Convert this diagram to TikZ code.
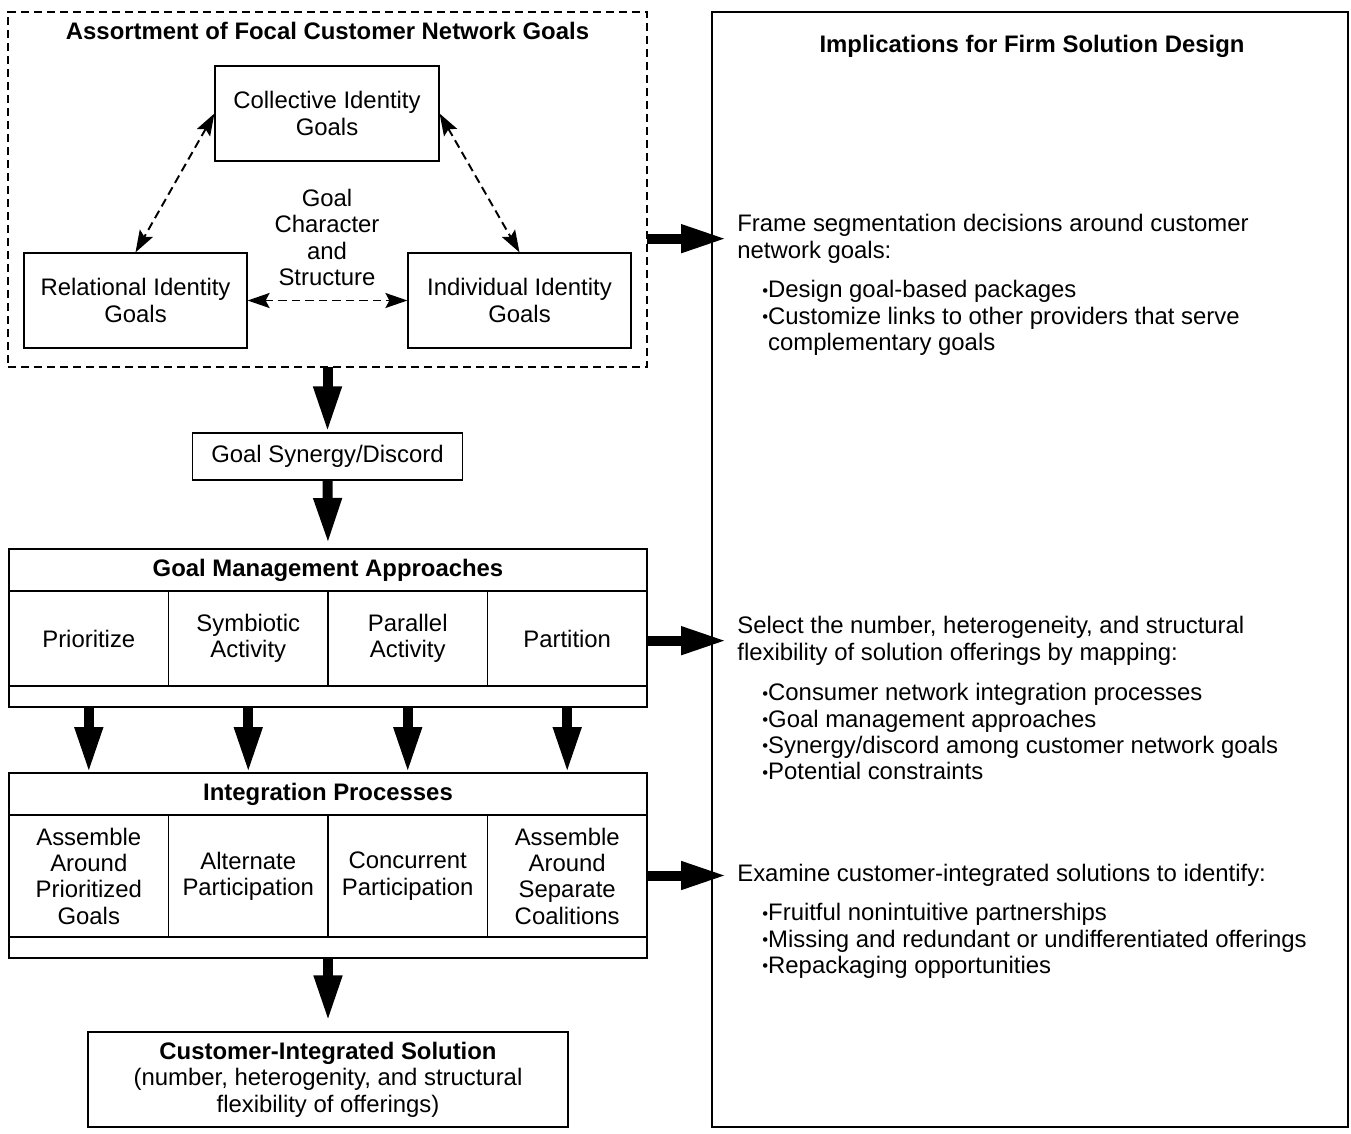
\documentclass[tikz,border=0pt]{standalone}
\usepackage{fontspec}
\setmainfont{Liberation Sans}
\usetikzlibrary{arrows.meta,positioning}
\newcommand{\basefont}{\fontsize{13.6}{15}\selectfont}
\newcommand{\bul}{\raisebox{0.8pt}{\fontsize{9.5}{9.5}\selectfont\textbullet}}
\tikzset{
    box/.style={rectangle, draw, line width=0.7pt, align=center, inner sep=2pt},
    goalbox/.style={box, minimum width=4.46cm, minimum height=1.9cm},
    hdr/.style={box, minimum width=12.76cm, minimum height=0.84cm,
        font=\basefont\bfseries, outer sep=0pt},
    cell/.style={box, minimum width=3.19cm, outer sep=0pt},
    strip/.style={box, minimum width=12.76cm, minimum height=0.42cm, outer sep=0pt},
    bigarr/.style={line width=0.2cm, -{Triangle[length=0.92cm,width=0.52cm]}},
    darr/.style={line width=1.1pt, dash pattern=on 0.17cm off 0.1cm,
        {Stealth[length=0.44cm,width=0.3cm,inset=0.08cm]}-{Stealth[length=0.44cm,width=0.3cm,inset=0.08cm]}},
    note/.style={align=left, inner sep=0pt, anchor=north west},
}
\begin{document}
\begin{tikzpicture}[x=0.02cm, y=-0.02cm, font=\basefont]
\useasboundingbox (0,0) rectangle (1351,1133);

% ---- goal assortment (dashed frame) ----
\node[draw, line width=1.1pt, dash pattern=on 0.16cm off 0.1cm, inner sep=0pt,
      outer sep=0pt, minimum width=12.78cm, minimum height=7.1cm] (asort) at (327.5,189.5) {};
\node[font=\basefont\bfseries] (asortT) at (327.5,31) {Assortment of Focal Customer Network Goals};

\node[goalbox, minimum width=4.48cm] (coll) at (327,113.5) {Collective Identity\\Goals};
\node[goalbox] (rel) at (135.5,300.5) {Relational Identity\\Goals};
\node[goalbox] (ind) at (519.5,300.5) {Individual Identity\\Goals};
\node[align=center] (gcs) at (327,237.5) {Goal\\Character\\and\\Structure};

\draw[darr] (coll.west) -- (rel.north);
\draw[darr] (coll.east) -- (ind.north);
\draw[darr] (rel.east) -- (ind.west);

% ---- synergy ----
\node[box, minimum width=5.4cm, minimum height=0.94cm] (syn) at (327.5,456.5) {Goal Synergy/Discord};
\draw[bigarr] (asort.south) -- (syn.north);

% ---- goal management approaches ----
\node[hdr] (gmh) at (328,570) {Goal Management Approaches};
\node[cell, minimum height=1.9cm, below right=0cm and 0cm of gmh.south west] (gm1) {Prioritize};
\node[cell, minimum height=1.9cm, right=0cm of gm1] (gm2) {Symbiotic\\Activity};
\node[cell, minimum height=1.9cm, right=0cm of gm2] (gm3) {Parallel\\Activity};
\node[cell, minimum height=1.9cm, right=0cm of gm3] (gm4) {Partition};
\node[strip, below right=0cm and 0cm of gm1.south west] (gms) {};
\draw[bigarr, shorten >=0.1cm] (syn.south) -- (gmh.north);

% ---- integration processes ----
\node[hdr] (iph) at (328,794) {Integration Processes};
\node[cell, minimum height=2.44cm, below right=0cm and 0cm of iph.south west] (ip1)
    {Assemble\\Around\\Prioritized\\Goals};
\node[cell, minimum height=2.44cm, right=0cm of ip1] (ip2) {Alternate\\Participation};
\node[cell, minimum height=2.44cm, right=0cm of ip2] (ip3) {Concurrent\\Participation};
\node[cell, minimum height=2.44cm, right=0cm of ip3] (ip4)
    {Assemble\\Around\\Separate\\Coalitions};
\node[strip, below right=0cm and 0cm of ip1.south west] (ips) {};

\foreach \i in {1,...,4}
    \draw[bigarr] (gm\i |- gms.south) -- (gm\i |- iph.north);

% ---- solution ----
\node[box, minimum width=9.6cm, minimum height=1.9cm] (sol) at (328,1079.5)
    {\textbf{Customer-Integrated Solution}\\(number, heterogenity, and structural\\flexibility of offerings)};
\draw[bigarr, shorten >=0.2cm] (ips.south) -- (sol.north);

% ---- implications (right panel) ----
\node[draw, line width=0.7pt, inner sep=0pt, minimum width=12.72cm,
      minimum height=22.3cm] (impl) at (1030,569.5) {};
\node[font=\basefont\bfseries] (implT) at (1032,46) {Implications for Firm Solution Design};

\node[note] (frm) at (737,214) {Frame segmentation decisions around customer\\network goals:};
\node[note] (frmB) at (762,280)
    {\bul Design goal-based packages\\\bul Customize links to other providers that serve\\\hphantom{\bul}complementary goals};

\node[note] (sel) at (737,616) {Select the number, heterogeneity, and structural\\flexibility of solution offerings by mapping:};
\node[note] (selB) at (762,683)
    {\bul Consumer network integration processes\\\bul Goal management approaches\\\bul Synergy/discord among customer network goals\\\bul Potential constraints};

\node[note] (exa) at (737,864) {Examine customer-integrated solutions to identify:};
\node[note] (exaB) at (762,903)
    {\bul Fruitful nonintuitive partnerships\\\bul Missing and redundant or undifferentiated offerings\\\bul Repackaging opportunities};

\draw[bigarr, shorten >=0.2cm] (asort.east |- frm.west) -- (frm.west);
\draw[bigarr, shorten >=0.2cm] (gm4.east |- sel.west) -- (sel.west);
\draw[bigarr, shorten >=0.2cm] (ip4.east |- exa.west) -- (exa.west);

\end{tikzpicture}
\end{document}
